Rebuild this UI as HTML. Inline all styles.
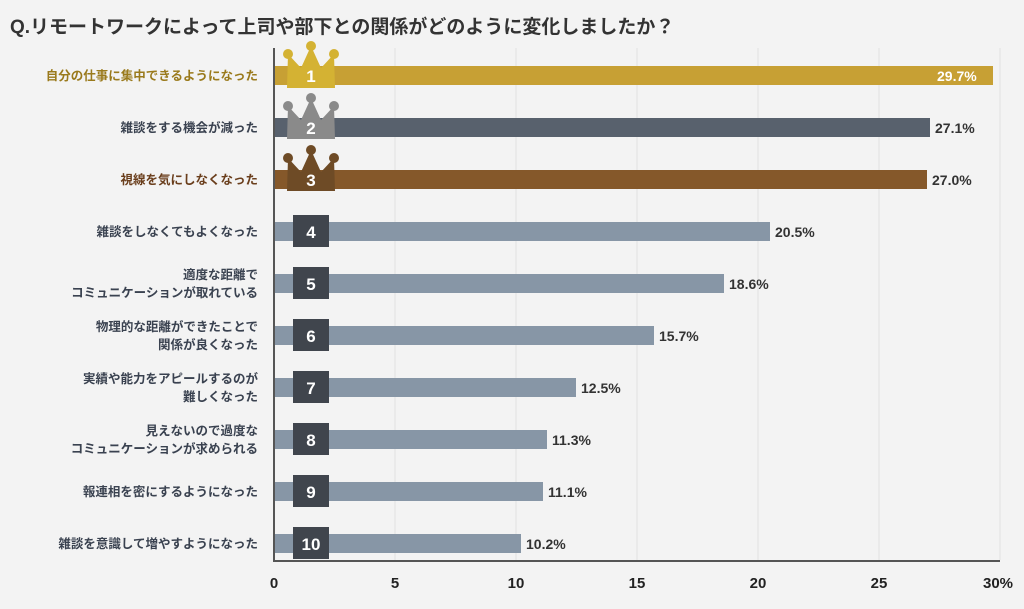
<!DOCTYPE html>
<html><head><meta charset="utf-8"><style>
body{margin:0;background:#f3f3f3;}
svg text{font-family:"Liberation Sans","Noto Sans CJK JP",sans-serif;}
</style></head><body>
<svg width="1024" height="604" viewBox="0 0 1024 604" xmlns="http://www.w3.org/2000/svg">
<rect width="1024" height="604" fill="#f3f3f3"/>
<text x="10" y="33" font-size="19" font-weight="bold" fill="#333">Q.リモートワークによって上司や部下との関係がどのように変化しましたか？</text>
<g stroke="#e2e2e2" stroke-width="1">
<line x1="395" y1="48" x2="395" y2="560"/><line x1="516" y1="48" x2="516" y2="560"/>
<line x1="637" y1="48" x2="637" y2="560"/><line x1="758" y1="48" x2="758" y2="560"/>
<line x1="879" y1="48" x2="879" y2="560"/><line x1="1000" y1="48" x2="1000" y2="560"/>
</g>
<g font-size="15" font-weight="bold" fill="#222" text-anchor="middle">
<text x="274" y="588">0</text><text x="395" y="588">5</text><text x="516" y="588">10</text>
<text x="637" y="588">15</text><text x="758" y="588">20</text><text x="879" y="588">25</text><text x="998" y="588">30%</text>
</g>
<!-- bars -->
<rect x="274" y="66" width="719" height="19" fill="#c7a034"/>
<rect x="274" y="118" width="656" height="19" fill="#58616d"/>
<rect x="274" y="170" width="653" height="19" fill="#85582a"/>
<rect x="274" y="222" width="496" height="19" fill="#8796a6"/>
<rect x="274" y="274" width="450" height="19" fill="#8796a6"/>
<rect x="274" y="326" width="380" height="19" fill="#8796a6"/>
<rect x="274" y="378" width="302" height="19" fill="#8796a6"/>
<rect x="274" y="430" width="273" height="19" fill="#8796a6"/>
<rect x="274" y="482" width="269" height="19" fill="#8796a6"/>
<rect x="274" y="534" width="247" height="19" fill="#8796a6"/>
<line x1="274" y1="48" x2="274" y2="561" stroke="#555" stroke-width="2"/>
<line x1="273" y1="561" x2="1000" y2="561" stroke="#555" stroke-width="2"/>
<!-- crowns -->
<g id="c1" fill="#d4b233">
<circle cx="288" cy="54" r="5"/><circle cx="311" cy="46" r="5"/><circle cx="334" cy="54" r="5"/>
<polygon points="288,54 301,68 311,46 321,68 334,54 335,88 287,88"/>
</g>
<g fill="#8a8a8a">
<circle cx="288" cy="106" r="5"/><circle cx="311" cy="98" r="5"/><circle cx="334" cy="106" r="5"/>
<polygon points="288,106 301,120 311,98 321,120 334,106 335,139 287,139"/>
</g>
<g fill="#6e4b26">
<circle cx="288" cy="158" r="5"/><circle cx="311" cy="150" r="5"/><circle cx="334" cy="158" r="5"/>
<polygon points="288,158 301,172 311,150 321,172 334,158 335,191 287,191"/>
</g>
<g fill="#40454d">
<rect x="293" y="215" width="36" height="32"/><rect x="293" y="267" width="36" height="32"/>
<rect x="293" y="319" width="36" height="32"/><rect x="293" y="371" width="36" height="32"/>
<rect x="293" y="423" width="36" height="32"/><rect x="293" y="475" width="36" height="32"/>
<rect x="293" y="527" width="36" height="32"/>
</g>
<g font-size="17" font-weight="bold" fill="#fff" text-anchor="middle">
<text x="311" y="82">1</text><text x="311" y="134">2</text><text x="311" y="186">3</text>
<text x="311" y="238">4</text><text x="311" y="290">5</text><text x="311" y="342">6</text>
<text x="311" y="394">7</text><text x="311" y="446">8</text><text x="311" y="498">9</text>
<text x="311" y="550">10</text>
</g>
<g font-size="14" font-weight="bold" fill="#333">
<text x="937" y="81" fill="#fff">29.7%</text>
<text x="935" y="133">27.1%</text><text x="932" y="185">27.0%</text>
<text x="775" y="237">20.5%</text><text x="729" y="289">18.6%</text>
<text x="659" y="341">15.7%</text><text x="581" y="393">12.5%</text>
<text x="552" y="445">11.3%</text><text x="548" y="497">11.1%</text>
<text x="526" y="549">10.2%</text>
</g>
<g font-size="12.5" font-weight="bold" fill="#3a4250" text-anchor="end">
<text x="258" y="80" fill="#9a7a1c">自分の仕事に集中できるようになった</text>
<text x="258" y="132">雑談をする機会が減った</text>
<text x="258" y="184" fill="#6a3e1c">視線を気にしなくなった</text>
<text x="258" y="236">雑談をしなくてもよくなった</text>
<text x="258" y="279">適度な距離で</text><text x="258" y="297">コミュニケーションが取れている</text>
<text x="258" y="331">物理的な距離ができたことで</text><text x="258" y="349">関係が良くなった</text>
<text x="258" y="383">実績や能力をアピールするのが</text><text x="258" y="401">難しくなった</text>
<text x="258" y="435">見えないので過度な</text><text x="258" y="453">コミュニケーションが求められる</text>
<text x="258" y="496">報連相を密にするようになった</text>
<text x="258" y="548">雑談を意識して増やすようになった</text>
</g>
</svg>
</body></html>
